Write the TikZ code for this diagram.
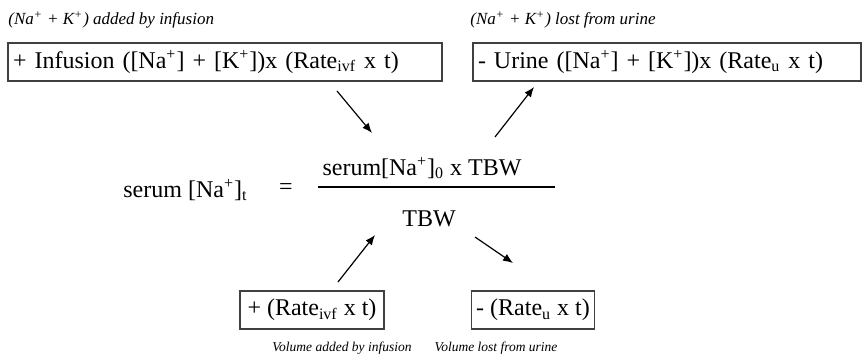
\documentclass[tikz,border=0pt]{standalone}
\usepackage{fontspec}
\setmainfont{Liberation Serif}
\usetikzlibrary{arrows.meta,positioning}
\newcommand{\cation}[1]{#1\textsuperscript{+}}
\tikzset{
  % framed term of the balance, left-aligned text
  eqbox/.style  = {draw=black!75, line width=0.6pt, minimum height=19pt,
                   inner xsep=2.5pt, inner ysep=0pt, font=\fontsize{12}{14}\selectfont},
  eqtxt/.style  = {inner sep=0pt, font=\fontsize{12}{14}\selectfont},
  toptag/.style = {inner sep=0pt, anchor=west, font=\fontsize{8.5}{10}\selectfont\itshape},
  bottag/.style = {inner sep=0pt, font=\fontsize{6.75}{8}\selectfont\itshape},
  flow/.style   = {-{Latex[length=5pt,width=4pt]}, line width=0.6pt},
}
\begin{document}
\begin{tikzpicture}[x=0.5pt,y=-0.5pt]
\useasboundingbox (0,0) rectangle (862,361);
% solute terms
\node[toptag] (soluteInTag) at (8,20) {(\cation{Na} + \cation{K}) added by infusion};
\node[toptag] (soluteOutTag) at (470,20) {(\cation{Na} + \cation{K}) lost from urine};
\node[eqbox, text width=212pt, align=left] (soluteIn) at (225,62)
  {+ Infusion ([\cation{Na}] + [\cation{K}])x (Rate\textsubscript{ivf} x t)};
\node[eqbox, text width=189pt, align=left] (soluteOut) at (667,62)
  {- Urine ([\cation{Na}] + [\cation{K}])x (Rate\textsubscript{u} x t)};
% the equation
\node[eqtxt, anchor=base west] (lhs) at (123,197) {serum [\cation{Na}]\textsubscript{t}};
\node[eqtxt] (eq) at (286,189) {=};
\node[eqtxt, anchor=base] (num) at (422,175) {serum[\cation{Na}]\textsubscript{0} x TBW};
\node[eqtxt, anchor=base] (den) at (429,226) {TBW};
\coordinate (barL) at (318,187);
\coordinate (barR) at (555,187);
\draw[line width=0.6pt] (barL) -- (barR);
% volume terms
\node[eqbox, minimum width=72pt] (volIn) at (312,310) {+ (Rate\textsubscript{ivf} x t)};
\node[eqbox, minimum width=59pt] (volOut) at (533,310) {- (Rate\textsubscript{u} x t)};
\node[bottag] (volInTag) at (342,348) {Volume added by infusion};
\node[bottag] (volOutTag) at (496,348) {Volume lost from urine};
% arrows
\coordinate (a1) at (337,91);   \coordinate (a1e) at (372,133);
\coordinate (a2) at (495,137);  \coordinate (a2e) at (534,87);
\coordinate (a3) at (338,282);  \coordinate (a3e) at (375,235);
\coordinate (a4) at (475,237);  \coordinate (a4e) at (513,263);
\draw[flow] (a1) -- (a1e);
\draw[flow] (a2) -- (a2e);
\draw[flow] (a3) -- (a3e);
\draw[flow] (a4) -- (a4e);
\end{tikzpicture}
\end{document}
